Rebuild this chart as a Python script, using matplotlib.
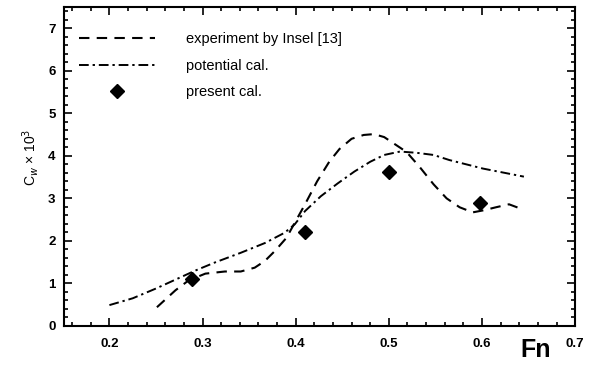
"""
Wave resistance coefficient vs Froude number: experiment, potential and present calculation.
"""

import matplotlib
matplotlib.use('Agg')
import matplotlib.pyplot as plt
from matplotlib.ticker import MultipleLocator

plt.rcParams['font.family'] = ['Liberation Sans', 'DejaVu Sans']

# experiment by Insel [13] (dashed)
exp_fn = [0.251, 0.271, 0.285, 0.303, 0.324, 0.341, 0.356, 0.367, 0.378, 0.39,
          0.41, 0.423, 0.436, 0.447, 0.46, 0.473, 0.484, 0.495, 0.506, 0.519,
          0.533, 0.548, 0.562, 0.576, 0.59, 0.602, 0.615, 0.629, 0.64]
exp_cw = [0.44, 0.84, 1.07, 1.23, 1.28, 1.28, 1.37, 1.53, 1.77, 2.07,
          2.86, 3.4, 3.86, 4.16, 4.4, 4.49, 4.51, 4.44, 4.28, 4.09,
          3.74, 3.33, 3.0, 2.79, 2.67, 2.72, 2.79, 2.86, 2.77]

# potential calculation (dash-dot)
pot_fn = [0.2, 0.225, 0.25, 0.274, 0.292, 0.313, 0.341, 0.367, 0.388, 0.399,
          0.41, 0.427, 0.445, 0.463, 0.48, 0.495, 0.512, 0.53, 0.548, 0.565,
          0.601, 0.645]
pot_cw = [0.49, 0.65, 0.88, 1.12, 1.3, 1.49, 1.72, 1.95, 2.19, 2.39,
          2.7, 3.05, 3.35, 3.63, 3.86, 4.02, 4.1, 4.07, 4.02, 3.9,
          3.7, 3.51]

# present calculation (diamonds)
pres_fn = [0.289, 0.41, 0.5, 0.598]
pres_cw = [1.1, 2.2, 3.63, 2.9]

fig = plt.figure(figsize=(5.96, 3.65), dpi=100)
ax = fig.add_axes([0.107, 0.107, 0.858, 0.874])

ax.plot(exp_fn, exp_cw, color='black', linestyle=(0, (5, 3.5)), linewidth=1.5,
        label='experiment by Insel [13]')
ax.plot(pot_fn, pot_cw, color='black', linestyle=(0, (5, 2, 1.2, 2)), linewidth=1.4,
        label='potential cal.')
ax.plot(pres_fn, pres_cw, 'D', color='black', markersize=7, linestyle='none',
        label='present cal.')

ax.set_xlim(0.151, 0.7)
ax.set_ylim(0, 7.5)
ax.xaxis.set_major_locator(MultipleLocator(0.1))
ax.xaxis.set_minor_locator(MultipleLocator(0.02))
ax.yaxis.set_major_locator(MultipleLocator(1))
ax.yaxis.set_minor_locator(MultipleLocator(0.2))
ax.set_xticks([0.2, 0.3, 0.4, 0.5, 0.6, 0.7])
ax.set_xticklabels(['0.2', '0.3', '0.4', '0.5', '0.6', '0.7'])
ax.tick_params(which='both', direction='in', top=True, right=True, width=1.2)
ax.tick_params(which='major', length=6, labelsize=9.5, pad=6)
ax.tick_params(axis='x', which='major', pad=9)
ax.tick_params(which='minor', length=3)
for lbl in ax.get_xticklabels() + ax.get_yticklabels():
    lbl.set_fontweight('bold')
for sp in ax.spines.values():
    sp.set_linewidth(1.5)

ax.set_ylabel(r'C$_w$ × 10$^3$', fontsize=10)
ax.yaxis.set_label_coords(-0.045, 0.53)
ax.text(0.922, -0.075, 'Fn', transform=ax.transAxes, fontsize=18, fontweight='bold',
        ha='center', va='center')

leg = ax.legend(loc='upper left', frameon=False, fontsize=10.5, handlelength=5.2,
                handletextpad=2.1, labelspacing=0.85, borderaxespad=0.0,
                borderpad=0.0, bbox_to_anchor=(0.03, 0.92))

plt.savefig('out.png', dpi=100)
